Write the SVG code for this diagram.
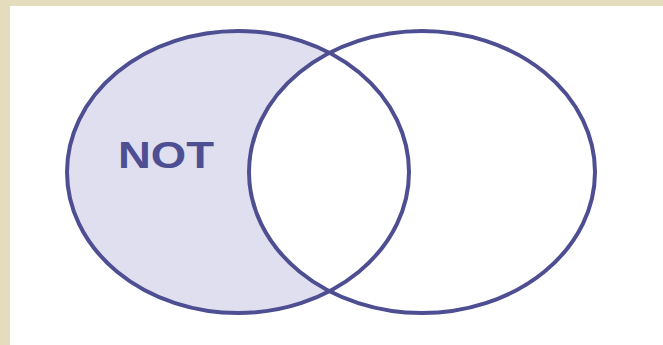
<svg xmlns="http://www.w3.org/2000/svg" width="663" height="345" viewBox="0 0 663 345">
  <style>
    .ring { fill: none; stroke: #4e4e92; stroke-width: 4; }
    .label { font-family: "Liberation Sans", Arial, sans-serif; font-weight: bold; font-size: 36px; fill: #4e4e92; }
  </style>
  <rect x="0" y="0" width="663" height="345" fill="#e4dcbc"/>
  <rect x="10" y="6" width="653" height="339" fill="#ffffff"/>
  <g id="fills">
    <ellipse cx="238" cy="172" rx="171" ry="141" fill="#dfdff0"/>
    <ellipse cx="422" cy="172" rx="173" ry="141" fill="#ffffff"/>
  </g>
  <g id="setA">
    <ellipse class="ring" cx="238" cy="172" rx="171" ry="141"/>
    <text class="label" x="118" y="168" textLength="96" lengthAdjust="spacingAndGlyphs">NOT</text>
  </g>
  <g id="setB">
    <ellipse class="ring" cx="422" cy="172" rx="173" ry="141"/>
  </g>
  <g id="connectors"/>
</svg>
